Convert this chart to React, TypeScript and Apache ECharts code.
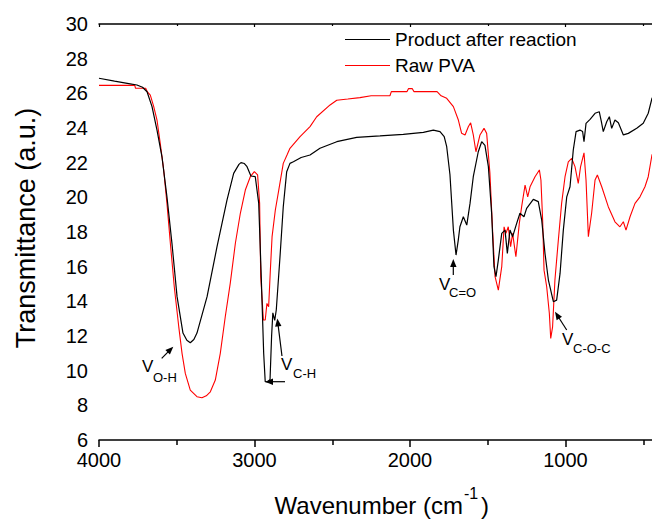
import React, { useEffect, useRef } from "react";
import * as echarts from "echarts";

const productX = [4000, 3900, 3800, 3756, 3720, 3691, 3659, 3627, 3595, 3563, 3531, 3498, 3460, 3435, 3413, 3390, 3370, 3305, 3241, 3177, 3134, 3100, 3087, 3065, 3048, 3023, 2995, 2973, 2958, 2941, 2931, 2915, 2900, 2890, 2882, 2870, 2860, 2836, 2815, 2793, 2772, 2750, 2700, 2643, 2579, 2471, 2343, 2193, 2043, 1914, 1850, 1807, 1780, 1764, 1743, 1721, 1704, 1690, 1679, 1657, 1635, 1614, 1593, 1561, 1539, 1518, 1496, 1475, 1460, 1447, 1432, 1410, 1389, 1374, 1357, 1340, 1314, 1293, 1267, 1250, 1207, 1175, 1153, 1132, 1110, 1078, 1057, 1035, 1014, 992, 971, 950, 932, 907, 890, 881, 868, 842, 810, 783, 770, 757, 735, 718, 703, 682, 660, 628, 596, 542, 500, 468, 444, 400];
const productY = [26.87, 26.7, 26.55, 26.48, 26.35, 26.09, 25.23, 23.88, 22.34, 20.03, 17.36, 14.27, 12.17, 11.75, 11.61, 11.8, 12.17, 14.27, 17.15, 19.84, 21.38, 21.9, 22.0, 21.95, 21.77, 21.23, 21.19, 19.67, 15.8, 11.0, 9.36, 9.35, 9.5, 12.0, 13.34, 12.9, 13.5, 16.57, 19.46, 21.48, 21.96, 22.05, 22.3, 22.44, 22.83, 23.21, 23.46, 23.54, 23.63, 23.75, 23.88, 23.79, 23.5, 22.92, 21.3, 18.11, 16.67, 17.5, 18.3, 18.88, 18.4, 19.65, 21.19, 22.63, 23.21, 23.0, 21.77, 19.08, 16.0, 15.42, 16.38, 17.92, 18.11, 16.77, 18.11, 17.73, 18.5, 19.08, 18.88, 19.36, 19.88, 19.75, 18.69, 16.77, 15.23, 13.98, 14.07, 15.61, 18.11, 20.03, 20.61, 22.73, 23.79, 23.88, 23.8, 23.21, 24.27, 24.5, 24.85, 24.94, 24.4, 23.79, 24.36, 24.65, 23.98, 24.46, 24.3, 23.6, 23.69, 23.98, 24.27, 24.85, 25.71, 26.2];

const pvaX = [4000, 3770, 3765, 3700, 3690, 3670, 3648, 3627, 3606, 3584, 3563, 3541, 3516, 3487, 3466, 3445, 3413, 3370, 3338, 3310, 3284, 3252, 3220, 3188, 3156, 3123, 3091, 3059, 3027, 3001, 2980, 2967, 2960, 2950, 2943, 2931, 2920, 2909, 2898, 2887, 2866, 2844, 2815, 2791, 2772, 2707, 2643, 2600, 2514, 2471, 2400, 2322, 2250, 2129, 2120, 2019, 2010, 1985, 1975, 1826, 1800, 1764, 1721, 1689, 1668, 1646, 1625, 1610, 1593, 1576, 1550, 1524, 1507, 1486, 1469, 1453, 1432, 1410, 1395, 1383, 1368, 1353, 1340, 1319, 1297, 1282, 1260, 1243, 1228, 1196, 1168, 1158, 1147, 1138, 1121, 1104, 1095, 1083, 1068, 1046, 1025, 1003, 982, 960, 939, 918, 903, 881, 868, 853, 832, 810, 795, 767, 725, 682, 650, 628, 611, 585, 553, 521, 489, 468, 444, 400];
const pvaY = [26.46, 26.46, 26.29, 26.29, 26.1, 25.9, 25.23, 24.46, 23.1, 21.58, 19.65, 17.34, 14.84, 12.53, 11.0, 9.84, 8.88, 8.5, 8.44, 8.55, 8.78, 9.46, 11.0, 13.11, 15.04, 17.35, 19.08, 20.42, 21.19, 21.48, 21.29, 19.65, 15.42, 14.0, 12.92, 12.92, 13.88, 13.69, 15.8, 17.73, 19.27, 20.42, 21.96, 22.44, 22.83, 23.5, 24.08, 24.65, 25.33, 25.6, 25.67, 25.75, 25.86, 25.86, 26.1, 26.1, 26.27, 26.27, 26.1, 26.1, 25.86, 25.71, 25.23, 24.46, 23.69, 23.6, 24.07, 24.3, 23.6, 22.63, 23.6, 23.98, 23.69, 21.38, 18.11, 15.42, 14.65, 16.0, 18.3, 17.92, 18.3, 17.15, 17.92, 16.57, 18.5, 19.46, 20.71, 20.03, 20.61, 21.19, 21.58, 21.0, 18.69, 15.8, 14.84, 13.31, 11.86, 12.53, 15.23, 17.54, 19.65, 21.19, 22.05, 22.25, 21.77, 20.8, 21.77, 22.57, 21.0, 17.73, 19.08, 21.0, 21.29, 20.61, 19.46, 18.59, 18.3, 18.59, 18.11, 18.88, 19.65, 20.03, 20.61, 21.19, 22.44, 23.2];

const seriesNames = ["Product after reaction", "Raw PVA"];
const FONT = "Liberation Sans, Arial, sans-serif";

function arrow(x1: number, y1: number, x2: number, y2: number) {
  const dx = x2 - x1;
  const dy = y2 - y1;
  const len = Math.sqrt(dx * dx + dy * dy);
  const ux = dx / len;
  const uy = dy / len;
  const hl = 8;
  const hw = 3.2;
  const bx = x2 - ux * hl;
  const by = y2 - uy * hl;
  return [
    {
      type: "line",
      shape: { x1, y1, x2: bx + ux * 2, y2: by + uy * 2 },
      style: { stroke: "#000", lineWidth: 1.2 },
    },
    {
      type: "polygon",
      shape: {
        points: [
          [x2, y2],
          [bx - uy * hw, by + ux * hw],
          [bx + uy * hw, by - ux * hw],
        ],
      },
      style: { fill: "#000" },
    },
  ];
}

function label(x: number, y: number, sub: string, sx: number, sy: number) {
  return [
    {
      type: "text",
      x,
      y,
      style: { text: "V", font: `17px ${FONT}`, fill: "#000", align: "left", verticalAlign: "middle" },
    },
    {
      type: "text",
      x: sx,
      y: sy,
      style: { text: sub, font: `13px ${FONT}`, fill: "#000", align: "left", verticalAlign: "middle" },
    },
  ];
}

export default function App() {
  const ref = useRef<HTMLDivElement>(null);
  useEffect(() => {
    if (!ref.current) return;
    const chart = echarts.init(ref.current, null, { renderer: "svg" });
    const productData = productX.map((x, i) => [x, productY[i]]);
    const pvaData = pvaX.map((x, i) => [x, pvaY[i]]);
    const axisLine = { show: true, lineStyle: { color: "#000", width: 1.5 } };
    chart.setOption({
      animation: false,
      backgroundColor: "#fff",
      grid: { left: 99, top: 24, bottom: 80, right: 19, containLabel: false },
      legend: {
        orient: "vertical",
        left: 345,
        top: 29,
        padding: 0,
        itemGap: 5,
        itemWidth: 45,
        itemHeight: 1.2,
        icon: "rect",
        textStyle: { fontFamily: FONT, fontSize: 19, color: "#000", lineHeight: 21 },
        data: seriesNames,
      },
      xAxis: [
        {
          type: "value",
          inverse: true,
          min: 0,
          max: 4000,
          interval: 1000,
          position: "bottom",
          axisLine,
          axisTick: { show: true, length: 7, lineStyle: { color: "#000", width: 1.5 } },
          minorTick: { show: true, splitNumber: 2, length: 5, lineStyle: { color: "#000", width: 1.5 } },
          splitLine: { show: false },
          axisLabel: {
            color: "#000",
            fontFamily: FONT,
            fontSize: 20,
            margin: 10,
            formatter: (v: number) => (v === 0 ? "" : String(v)),
          },
        },
        {
          type: "value",
          inverse: true,
          min: 0,
          max: 4000,
          interval: 1000,
          position: "top",
          axisLine,
          axisTick: { show: true, inside: true, length: 3, lineStyle: { color: "#000", width: 1.2 } },
          minorTick: { show: true, splitNumber: 2, length: 2, lineStyle: { color: "#000", width: 1.2 } },
          splitLine: { show: false },
          axisLabel: { show: false },
        },
      ],
      yAxis: {
        type: "value",
        min: 6,
        max: 30,
        interval: 2,
        axisLine,
        axisTick: { show: true, length: 6, lineStyle: { color: "#000", width: 1.5 } },
        minorTick: { show: true, splitNumber: 2, length: 4, lineStyle: { color: "#000", width: 1.5 } },
        splitLine: { show: false },
        axisLabel: { color: "#000", fontFamily: FONT, fontSize: 20, margin: 11 },
      },
      series: [
        {
          name: seriesNames[0],
          type: "line",
          data: productData,
          symbol: "none",
          lineStyle: { color: "#000", width: 1.2 },
          itemStyle: { color: "#000" },
          z: 3,
        },
        {
          name: seriesNames[1],
          type: "line",
          data: pvaData,
          symbol: "none",
          lineStyle: { color: "#ff0000", width: 1.1 },
          itemStyle: { color: "#ff0000" },
          z: 2,
        },
      ],
      graphic: [
        {
          type: "text",
          x: 26,
          y: 228,
          rotation: Math.PI / 2,
          style: { text: "Transmittance (a.u.)", font: `27px ${FONT}`, fill: "#000", align: "center", verticalAlign: "middle" },
        },
        {
          type: "text",
          x: 463,
          y: 505,
          style: { text: "Wavenumber (cm", font: `24px ${FONT}`, fill: "#000", align: "right", verticalAlign: "middle" },
        },
        {
          type: "text",
          x: 464,
          y: 493,
          style: { text: "-1", font: `16px ${FONT}`, fill: "#000", align: "left", verticalAlign: "middle" },
        },
        {
          type: "text",
          x: 481,
          y: 505,
          style: { text: ")", font: `24px ${FONT}`, fill: "#000", align: "left", verticalAlign: "middle" },
        },
        ...label(142, 366, "O-H", 153, 377),
        ...arrow(161.7, 358.3, 173.3, 346.7),
        ...label(281, 364, "C-H", 293, 373),
        ...arrow(282, 356, 277.3, 318.5),
        ...arrow(285, 381.7, 265, 381.7),
        ...label(439, 284, "C=O", 449, 292),
        ...arrow(453.3, 275, 453.3, 259),
        ...label(562, 339, "C-O-C", 573, 348),
        ...arrow(566.7, 330, 555, 311.7),
      ],
    });
    return () => chart.dispose();
  }, []);
  return (
    <div style={{ position: "absolute", left: 0, top: 0, width: 652, height: 520, overflow: "hidden" }}>
      <div ref={ref} style={{ width: 740, height: 520 }} />
    </div>
  );
}
